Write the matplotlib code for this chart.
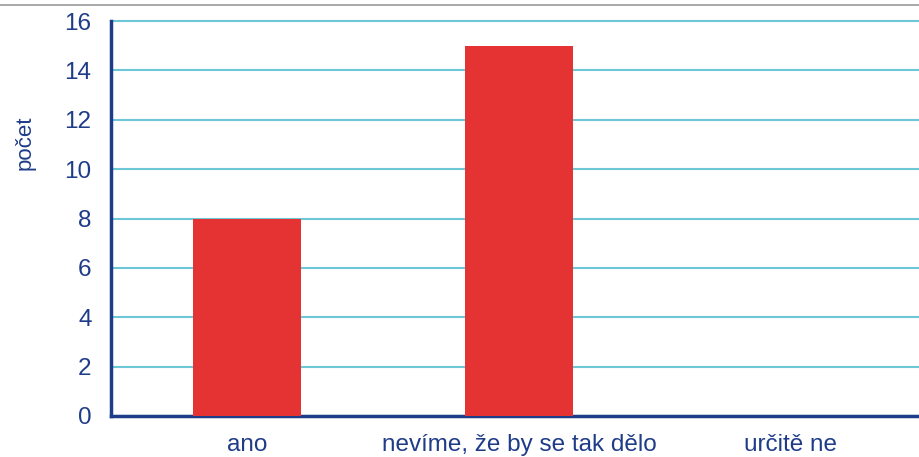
import matplotlib
matplotlib.use("Agg")
import matplotlib.pyplot as plt
from matplotlib.lines import Line2D

categories = ["ano", "nevíme, že by se tak dělo", "určitě ne"]
values = [8, 15, 0]
yticks = [0, 2, 4, 6, 8, 10, 12, 14, 16]

navy = "#1F3C88"
plt.rcParams['font.family'] = ['Liberation Sans', 'DejaVu Sans']

fig = plt.figure(figsize=(9.2, 4.57), dpi=100)
W, H = 920, 457
left, right, top, bottom = 111, 927, 21, 416
ax = fig.add_axes([left / W, 1 - bottom / H, (right - left) / W, (bottom - top) / H])

x = list(range(len(categories)))
ax.bar(x, values, width=0.4, color="#E53333", zorder=3)
ax.set_xlim(-0.5, 2.5)
ax.set_ylim(0, 16)
ax.set_yticks(yticks)
ax.set_xticks(x)
ax.set_xticklabels(categories)
ax.yaxis.grid(True, color="#6CC8D6", linewidth=1.5, zorder=0)
for gl in ax.get_ygridlines():
    gl.set_clip_on(False)
ax.set_axisbelow(True)
for s in ["top", "right"]:
    ax.spines[s].set_visible(False)
for s in ["left", "bottom"]:
    ax.spines[s].set_color(navy)
    ax.spines[s].set_linewidth(2.5)
ax.tick_params(axis="both", length=0, colors=navy, labelsize=17.5)
ax.tick_params(axis="y", pad=14)
ax.tick_params(axis="x", pad=13)
fig.text(25 / W, 1 - 143 / H, "počet", rotation=90, color=navy, fontsize=16,
         ha="center", va="center")
fig.add_artist(Line2D([0, 1], [1 - 5 / H, 1 - 5 / H], color="#999999", linewidth=1.2,
                      transform=fig.transFigure))
fig.savefig("out.png", dpi=100)
